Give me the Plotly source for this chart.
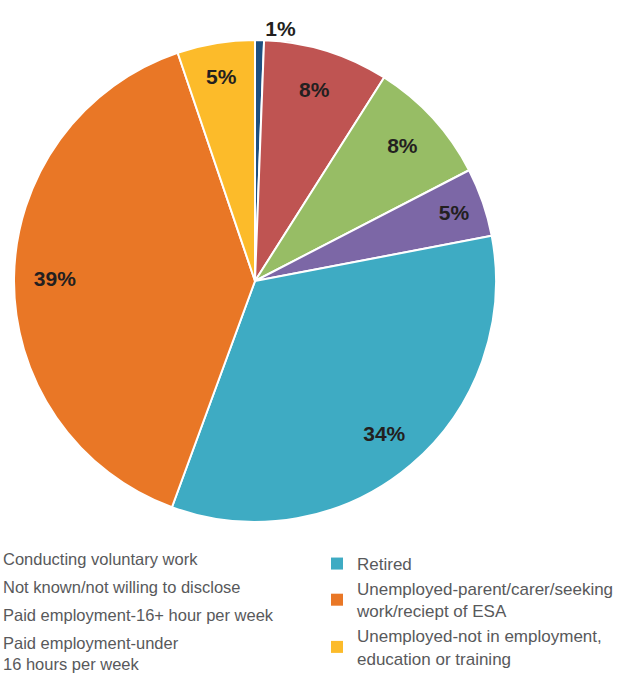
import plotly.graph_objects as go

categories = [
    "Conducting voluntary work",
    "Not known/not willing to disclose",
    "Paid employment-16+ hour per week",
    "Paid employment-under 16 hours per week",
    "Retired",
    "Unemployed-parent/carer/seeking work/reciept of ESA",
    "Unemployed-not in employment, education or training",
]
legend_labels = [
    "Conducting voluntary work",
    "Not known/not willing to disclose",
    "Paid employment-16+ hour per week",
    "Paid employment-under<br>16 hours per week",
    "Retired",
    "Unemployed-parent/carer/seeking<br>work/reciept of ESA",
    "Unemployed-not in employment,<br>education or training",
]
values = [0.6, 8.4, 8.4, 4.6, 33.6, 39.2, 5.2]
colors = ["#1d4f80", "#bf5452", "#97bd65", "#7c67a6", "#3eabc3", "#e97726", "#fcbb2a"]
text_positions = ["outside", "inside", "inside", "inside", "inside", "inside", "inside"]
legend_column = ["legend", "legend", "legend", "legend", "legend2", "legend2", "legend2"]

W, H = 644, 673
pie_domain = dict(x=[14 / W, 496 / W], y=[(H - 547) / H, (H - 15) / H])

fig = go.Figure()
# visible slices
fig.add_trace(go.Pie(
    labels=categories,
    values=values,
    sort=False,
    direction="clockwise",
    rotation=0,
    marker=dict(colors=colors, line=dict(color="white", width=2)),
    textinfo="none",
    showlegend=False,
    domain=pie_domain,
    hoverinfo="label+percent",
))
# percentage labels (same data, transparent ring so labels sit near the rim)
fig.add_trace(go.Pie(
    labels=categories,
    values=values,
    sort=False,
    direction="clockwise",
    rotation=0,
    hole=0.66,
    marker=dict(colors=["rgba(0,0,0,0)"] * len(values), line=dict(width=0)),
    textinfo="percent",
    texttemplate="%{percent:.0%}",
    textposition=text_positions,
    insidetextorientation="horizontal",
    textfont=dict(family="Liberation Sans, Arial, sans-serif", size=21, color="#231f20", weight="bold"),
    showlegend=False,
    domain=pie_domain,
    hoverinfo="skip",
))

for i, (lab, col, lg) in enumerate(zip(legend_labels, colors, legend_column)):
    fig.add_trace(go.Scatter(
        x=[None], y=[None], mode="markers", name=lab,
        marker=dict(symbol="square", size=12, color=col),
        legend=lg, legendgroup=f"g{i}", showlegend=True,
    ))

left_font = dict(family="Liberation Sans, Arial, sans-serif", size=16.5, color="#58595b")
right_font = dict(family="Liberation Sans, Arial, sans-serif", size=17, color="#58595b")
fig.update_layout(
    width=W, height=H,
    margin=dict(l=0, r=0, t=0, b=0, autoexpand=False),
    paper_bgcolor="white",
    plot_bgcolor="white",
    uniformtext=dict(minsize=21, mode="show"),
    xaxis=dict(visible=False, range=[0, 1]),
    yaxis=dict(visible=False, range=[0, 1]),
    legend=dict(
        x=-37 / W, y=(H - 541) / H, xanchor="left", yanchor="top",
        font=left_font, tracegroupgap=3.5, bgcolor="rgba(0,0,0,0)",
        itemclick=False, itemdoubleclick=False,
    ),
    legend2=dict(
        x=317 / W, y=(H - 546) / H, xanchor="left", yanchor="top",
        font=right_font, tracegroupgap=0, bgcolor="rgba(0,0,0,0)",
        itemclick=False, itemdoubleclick=False,
    ),
)

fig.write_html("out.html", config={"displayModeBar": False},
               post_script="document.body.style.margin='0';")
